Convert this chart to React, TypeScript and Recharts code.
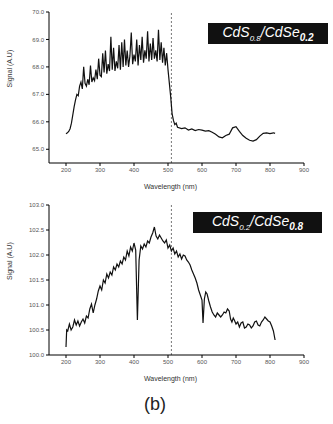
import React from 'react';
import { LineChart, Line, XAxis, YAxis, ReferenceLine } from 'recharts';

// wavelength (nm) / signal pairs
const topWavelength = [
  200, 204, 208, 212, 216, 220, 224, 228, 232, 236,
  240, 244, 248, 252, 256, 260, 264, 268, 272, 276, 280, 284, 288, 292, 296,
  300, 304, 308, 312, 316, 320, 324, 328, 332, 336, 340, 344, 348, 352, 356,
  360, 364, 368, 372, 376, 380, 384, 388, 392, 396, 400, 404, 408, 412, 416,
  420, 424, 428, 432, 436, 440, 444, 448, 452, 456, 460, 464, 468, 472, 476,
  480, 484, 488, 492, 496, 500, 504, 508, 512, 516, 520, 524, 528,
  540, 550, 560, 570, 580, 590, 600, 610, 620, 630, 640, 650, 660, 670, 680,
  690, 700, 710, 720, 730, 740, 750, 760, 770, 780, 790, 800, 810, 815,
];
const topSignal = [
  65.56, 65.6, 65.65, 65.75, 65.95, 66.25, 66.55, 66.8, 67.0, 66.95,
  67.3, 67.45, 67.2, 68.0, 67.4, 67.3, 67.55, 67.35, 68.05, 67.45, 67.6, 67.5, 67.9, 67.55, 68.3,
  67.7, 67.65, 68.5, 67.8, 68.6, 67.75, 68.1, 67.85, 69.1, 67.9, 68.7, 67.85, 68.2, 67.95, 68.8,
  67.9, 68.9, 68.0, 69.0, 68.05, 68.6, 68.0, 68.4, 69.25, 68.1, 68.45, 68.2, 69.0, 68.05, 68.8,
  68.25, 69.1, 68.15, 68.6, 68.3, 69.3, 68.2, 68.85, 68.25, 69.05, 68.3, 68.6, 68.2, 69.35, 68.25,
  68.9, 68.15, 68.7, 68.05, 68.5, 67.9, 67.4, 66.9, 66.3, 66.05, 65.9, 65.95, 65.8,
  65.75, 65.78, 65.7, 65.74, 65.68, 65.72, 65.7, 65.66, 65.68, 65.62, 65.55, 65.45, 65.42, 65.5, 65.55,
  65.78, 65.82, 65.65, 65.5, 65.4, 65.33, 65.3, 65.35, 65.48, 65.58, 65.6, 65.57, 65.6, 65.58,
];

const bottomWavelength = [
  200, 202, 205, 210, 215, 220, 225, 230, 235, 240, 245, 250, 255, 260, 265, 270, 275, 280, 285,
  290, 295, 300, 305, 310, 315, 320, 325, 330, 335, 340, 345, 350, 355, 360, 365, 370, 375,
  380, 385, 390, 395, 400, 405, 410, 415, 420, 425, 430, 435, 440, 445, 450, 455, 460, 465,
  470, 475, 480, 485, 490, 495, 500, 505, 510, 515, 520, 525, 530, 535, 540, 545, 550, 555,
  560, 565, 570, 575, 580, 585, 590, 595, 600, 603, 607, 611, 615, 620, 625, 630, 635, 640,
  645, 650, 655, 660, 665, 670, 675, 680, 684, 688, 692, 695, 700, 705, 710, 715, 720, 725,
  730, 735, 740, 745, 750, 755, 760, 765, 770, 775, 780, 785, 790, 795, 800, 805, 810, 815,
];
const bottomSignal = [
  100.16, 100.5, 100.48, 100.62, 100.5, 100.56, 100.7, 100.6, 100.68, 100.58, 100.66, 100.72, 100.64, 100.78, 100.74, 100.92, 101.02, 100.84, 101.0,
  101.12, 101.28, 101.38, 101.3, 101.5, 101.44, 101.62, 101.54, 101.66, 101.6, 101.76, 101.7, 101.82, 101.76, 101.88, 101.82, 101.96, 101.9,
  102.08, 101.98, 102.16, 102.08, 102.24, 102.1, 100.7, 101.9, 102.18, 102.12, 102.22, 102.16, 102.28, 102.24, 102.36, 102.44, 102.56, 102.38,
  102.32, 102.4, 102.34, 102.28, 102.24, 102.3, 102.14, 102.2, 102.08, 102.14, 102.02, 102.08, 101.96, 102.02, 101.92, 102.0, 101.98, 101.9,
  101.86, 101.8, 101.7, 101.62, 101.54, 101.44, 101.3, 101.2, 101.1, 100.64, 101.12, 101.26, 101.22, 101.08, 100.96, 100.86, 100.8, 100.76,
  100.84, 100.8, 100.76, 100.8, 100.86, 100.84, 100.92, 100.88, 100.72, 100.66, 100.74, 100.7, 100.62, 100.66, 100.56, 100.64, 100.66, 100.54,
  100.56, 100.62, 100.6, 100.54, 100.58, 100.66, 100.68, 100.6, 100.58, 100.66, 100.7, 100.76, 100.72, 100.68, 100.66, 100.58, 100.48, 100.3,
];

const xTicks = [200, 300, 400, 500, 600, 700, 800, 900];
const topTicks = [65.0, 66.0, 67.0, 68.0, 69.0, 70.0];
const bottomTicks = [100.0, 100.5, 101.0, 101.5, 102.0, 102.5, 103.0];

const tickStyle = { fontSize: 6, fill: '#555', fontFamily: 'Arial, sans-serif' };

function Spectrum({ xs, ys, yDomain, yTicks, height, top, bottom }: {
  xs: number[]; ys: number[]; yDomain: [number, number]; yTicks: number[];
  height: number; top: number; bottom: number;
}) {
  const data = xs.map((x, i) => ({ x, y: ys[i] }));
  return (
    <LineChart width={333} height={height} data={data}
      margin={{ top, right: 29, left: 8, bottom }}>
      <XAxis dataKey="x" type="number" domain={[150, 900]} ticks={xTicks}
        tick={tickStyle} tickSize={3} stroke="#000" allowDataOverflow
        height={20}
        label={{ value: 'Wavelength (nm)', position: 'insideBottom', offset: -6, dx: -6,
          fill: '#333', fontSize: 7, fontFamily: 'Arial, sans-serif' }} />
      <YAxis type="number" domain={yDomain} ticks={yTicks} width={41}
        tick={tickStyle} tickSize={3} stroke="#000" allowDataOverflow
        tickFormatter={(v: number) => v.toFixed(1)}
        label={{ value: 'Signal (A.U)', angle: -90, position: 'insideLeft', offset: 2,
          fill: '#333', fontSize: 7, fontFamily: 'Arial, sans-serif' }} />
      <ReferenceLine x={510} stroke="#777" strokeDasharray="2 2" />
      <Line type="linear" dataKey="y" stroke="#111" strokeWidth={1.2} dot={false}
        isAnimationActive={false} />
    </LineChart>
  );
}

function Tag({ left, top, width, s, se }: { left: number; top: number; width: number; s: string; se: string }) {
  return (
    <div style={{
      position: 'absolute', left, top, width, height: 21, background: '#111', color: '#fff',
      fontFamily: 'Arial, sans-serif', fontStyle: 'italic', fontSize: 14, lineHeight: '19px',
      textAlign: 'center', whiteSpace: 'nowrap',
    }}>
      CdS<sub style={{ fontSize: 8 }}>{s}</sub>/CdSe<sub style={{ fontSize: 10, fontWeight: 'bold' }}>{se}</sub>
    </div>
  );
}

export default function App() {
  return (
    <div style={{ position: 'absolute', left: 0, top: 0, width: 333, height: 424, background: '#fff' }}>
      <div style={{ position: 'absolute', left: 0, top: 0 }}>
        <Spectrum xs={topWavelength} ys={topSignal} yDomain={[64.5, 70.0]} yTicks={topTicks}
          height={192} top={12} bottom={9} />
      </div>
      <div style={{ position: 'absolute', left: 0, top: 190 }}>
        <Spectrum xs={bottomWavelength} ys={bottomSignal} yDomain={[100.0, 103.0]} yTicks={bottomTicks}
          height={196} top={15} bottom={11} />
      </div>
      <Tag left={208} top={23} width={120} s="0.8" se="0.2" />
      <Tag left={193} top={212} width={129} s="0.2" se="0.8" />
      <div style={{
        position: 'absolute', left: 0, width: 310, top: 394, textAlign: 'center',
        fontFamily: 'Arial, sans-serif', fontSize: 18, color: '#222',
      }}>(b)</div>
    </div>
  );
}
